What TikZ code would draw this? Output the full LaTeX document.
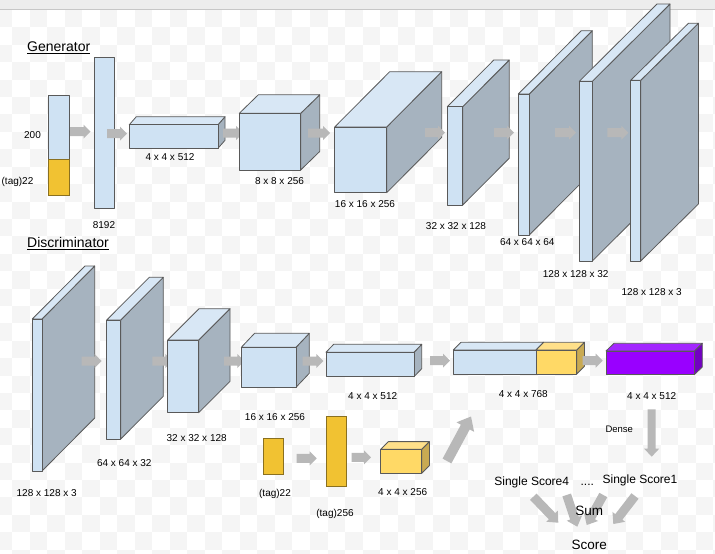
\documentclass[tikz,border=0pt]{standalone}
\usepackage{fontspec}
\setmainfont{Liberation Sans}
\usetikzlibrary{calc}
\definecolor{bluefront}{HTML}{CFE2F3}
\definecolor{bluetop}{HTML}{D8E7F5}
\definecolor{blueside}{HTML}{A6B3BF}
\definecolor{tagyellow}{HTML}{F1C232}
\definecolor{tagborder}{HTML}{8A7020}
\definecolor{ylwfront}{HTML}{FFD966}
\definecolor{ylwtop}{HTML}{FFE08A}
\definecolor{ylwside}{HTML}{C9AA52}
\definecolor{purfront}{HTML}{9900FF}
\definecolor{purtop}{HTML}{A326FF}
\definecolor{purside}{HTML}{7200C2}
\definecolor{arrowgray}{HTML}{B8B8B8}
\definecolor{checkgray}{HTML}{F5F5F5}
\definecolor{edgegray}{HTML}{595959}
\tikzset{
  cubeline/.style={draw=edgegray, line width=0.8pt, line join=round},
  tagbar/.style={draw=tagborder, line width=0.8pt, fill=tagyellow},
  lbl/.style={font=\fontsize{10}{12}\selectfont, inner sep=0pt, anchor=base},
  title/.style={font=\fontsize{14}{16}\selectfont, inner sep=0pt, anchor=base west},
  score/.style={font=\fontsize{12}{14}\selectfont, inner sep=0pt, anchor=base},
  bigtxt/.style={font=\fontsize{13.5}{16}\selectfont, inner sep=0pt, anchor=base},
  arrowfill/.style={fill=arrowgray}
}
% x y w h dx dy front top side
\newcommand\cuboid[9]{%
  \filldraw[cubeline, fill=#9] (#1+#3,#2) -- ++(#5,-#6) -- ++(0,#4) -- (#1+#3,#2+#4) -- cycle;
  \filldraw[cubeline, fill=#8] (#1,#2) -- ++(#5,-#6) -- ++(#3,0) -- (#1+#3,#2) -- cycle;
  \filldraw[cubeline, fill=#7] (#1,#2) rectangle ++(#3,#4);
}
% start, end, half shaft, half head, head length (numbers, in pt)
\newcommand\blockarrow[5]{%
  \coordinate (bacc) at ($(#2)!#5pt!(#1)$);
  \fill[arrowfill] ($(#1)!#3pt!90:(#2)$) -- ($(bacc)!#3pt!90:(#2)$) -- ($(bacc)!#4pt!90:(#2)$)
     -- (#2) -- ($(bacc)!#4pt!-90:(#2)$) -- ($(bacc)!#3pt!-90:(#2)$) -- ($(#1)!#3pt!-90:(#2)$) -- cycle;
}
\begin{document}
\begin{tikzpicture}[x=1pt,y=-1pt]
\useasboundingbox (0,0) rectangle (715,554);
\fill[white] (0,0) rectangle (715,554);
% checkerboard background
\foreach \i in {0,...,20}{
  \foreach \j in {0,...,15}{
    \fill[checkgray] ({-5.53+17.53*2*\i},{10+17.41*2*\j}) rectangle ++(17.53,17.41);
    \fill[checkgray] ({-5.53+17.53*(2*\i+1)},{10+17.41*(2*\j+1)}) rectangle ++(17.53,17.41);
  }
}
% top bar
\fill[black!7] (0,0) rectangle (715,9.5);
\draw[black!22, line width=0.8pt] (0,9.5) -- (715,9.5);

% ================= Generator =================
\node[title] (gen) at (27,51) {Generator};
\draw[line width=0.7pt] (gen.base west) ++(0,2) -- ($(gen.base east)+(0,2)$);

\filldraw[cubeline, fill=bluefront] (48.5,95) rectangle (69,159.3);
\filldraw[tagbar] (48.5,159.3) rectangle (69,195.7);
\node[lbl] (l200) at (32.5,138.6) {200};
\node[lbl] (ltag1) at (17.5,184.3) {(tag)22};

\coordinate (a1s) at (70,131.5); \coordinate (a1e) at (90.5,131.5);
\blockarrow{a1s}{a1e}{4.5}{7}{7}

\filldraw[cubeline, fill=bluefront] (94,57.3) rectangle (114.5,208.3);
\node[lbl] (l8192) at (104,228.6) {8192};

\coordinate (a2s) at (107,133.5); \coordinate (a2e) at (127,133.5);
\blockarrow{a2s}{a2e}{4.5}{7}{7}

\cuboid{129.3}{124.7}{88.7}{23.6}{7}{8}{bluefront}{bluetop}{blueside}
\node[lbl] (lg3) at (170,160.9) {4 x 4 x 512};

\coordinate (a3s) at (223,133); \coordinate (a3e) at (243,133);
\blockarrow{a3s}{a3e}{4.5}{7}{7}

\cuboid{239.3}{113.3}{61.4}{56.7}{19}{18.5}{bluefront}{bluetop}{blueside}
\node[lbl] (lg4) at (279.5,184.3) {8 x 8 x 256};

\coordinate (a4s) at (308,133); \coordinate (a4e) at (330,133);
\blockarrow{a4s}{a4e}{4.5}{7}{7}

\cuboid{334.7}{127}{52}{65.7}{55}{55.3}{bluefront}{bluetop}{blueside}
\node[lbl] (lg5) at (365,207.6) {16 x 16 x 256};

\coordinate (a5s) at (425,132.7); \coordinate (a5e) at (445,132.7);
\blockarrow{a5s}{a5e}{4.5}{7}{7}

\cuboid{447.3}{106.7}{15.4}{98.3}{46.5}{46.7}{bluefront}{bluetop}{blueside}
\node[lbl] (lg6) at (456,229.3) {32 x 32 x 128};

\coordinate (a6s) at (494,132.7); \coordinate (a6e) at (514,132.7);
\blockarrow{a6s}{a6e}{4.5}{7}{7}

\cuboid{518.3}{94}{11}{141}{63}{63.3}{bluefront}{bluetop}{blueside}
\node[lbl] (lg7) at (527.3,245.9) {64 x 64 x 64};

\coordinate (a7s) at (555,132.7); \coordinate (a7e) at (576,132.7);
\blockarrow{a7s}{a7e}{4.5}{7}{7}

\cuboid{579.3}{81.3}{13}{179.7}{77.7}{77.3}{bluefront}{bluetop}{blueside}
\node[lbl] (lg8) at (575.7,277.9) {128 x 128 x 32};

\coordinate (a8s) at (607.3,132.7); \coordinate (a8e) at (628.3,132.7);
\blockarrow{a8s}{a8e}{4.5}{7}{7}

\cuboid{630.7}{80.3}{10}{180.7}{57.7}{57}{bluefront}{bluetop}{blueside}
\node[lbl] (lg9) at (651.7,295.3) {128 x 128 x 3};

% ================= Discriminator =================
\node[title] (disc) at (27,247.5) {Discriminator};
\draw[line width=0.7pt] (disc.base west) ++(0,2) -- ($(disc.base east)+(0,2)$);

\cuboid{32.3}{319}{9.7}{152}{52.7}{53}{bluefront}{bluetop}{blueside}
\node[lbl] (ld1) at (46.7,496.3) {128 x 128 x 3};

\coordinate (b1s) at (81.7,361); \coordinate (b1e) at (101.7,361);
\blockarrow{b1s}{b1e}{4.5}{7}{7}

\cuboid{106.7}{320}{14}{119}{42.6}{42.7}{bluefront}{bluetop}{blueside}
\node[lbl] (ld2) at (124.3,466.9) {64 x 64 x 32};

\coordinate (b2s) at (152.3,361); \coordinate (b2e) at (172.3,361);
\blockarrow{b2s}{b2e}{4.5}{7}{7}

\cuboid{167.7}{340}{31}{72.7}{31.3}{31.3}{bluefront}{bluetop}{blueside}
\node[lbl] (ld3) at (196.7,441.3) {32 x 32 x 128};

\coordinate (b3s) at (224,361); \coordinate (b3e) at (244.3,361);
\blockarrow{b3s}{b3e}{4.5}{7}{7}

\cuboid{241.3}{347.3}{54.7}{40}{13.3}{14}{bluefront}{bluetop}{blueside}
\node[lbl] (ld4) at (275,420.3) {16 x 16 x 256};

\coordinate (b4s) at (302.7,361); \coordinate (b4e) at (323.3,361);
\blockarrow{b4s}{b4e}{4.5}{7}{7}

\cuboid{326}{352.3}{88}{24.4}{7.7}{8}{bluefront}{bluetop}{blueside}
\node[lbl] (ld5) at (372.7,399.3) {4 x 4 x 512};

\coordinate (b5s) at (430,360.7); \coordinate (b5e) at (450,360.7);
\blockarrow{b5s}{b5e}{4.5}{7}{7}

% 4 x 4 x 768 (blue + yellow)
\filldraw[cubeline, fill=ylwside] (576.7,350) -- ++(7.7,-7.7) -- ++(0,24) -- (576.7,374) -- cycle;
\filldraw[cubeline, fill=bluetop] (453.3,350) -- ++(7.7,-7.7) -- (543.7,342.3) -- (536,350) -- cycle;
\filldraw[cubeline, fill=ylwtop] (536,350) -- (543.7,342.3) -- (584.4,342.3) -- (576.7,350) -- cycle;
\filldraw[cubeline, fill=bluefront] (453.3,350) rectangle (536,374);
\filldraw[cubeline, fill=ylwfront] (536,350) rectangle (576.7,374);
\node[lbl] (ld6) at (523.3,397.9) {4 x 4 x 768};

\coordinate (b6s) at (582.7,360.7); \coordinate (b6e) at (602.7,360.7);
\blockarrow{b6s}{b6e}{4.5}{7}{7}

\cuboid{606}{351}{88.3}{23.7}{8}{7.7}{purfront}{purtop}{purside}
\node[lbl] (ld7) at (651.7,399.3) {4 x 4 x 512};

\coordinate (dns) at (651.7,409.3); \coordinate (dne) at (651.7,456.7);
\blockarrow{dns}{dne}{4}{7.5}{8}
\node[lbl, font=\fontsize{9.5}{11}\selectfont] (ldense) at (619.3,432.7) {Dense};

% tag branch
\filldraw[tagbar] (263.3,438.3) rectangle (283.3,474.3);
\node[lbl] (ltag2) at (275,496.3) {(tag)22};

\coordinate (b7s) at (296.7,458.3); \coordinate (b7e) at (316.7,458.3);
\blockarrow{b7s}{b7e}{4.5}{7}{7}

\filldraw[tagbar] (326,416) rectangle (346,486.7);
\node[lbl] (ltag3) at (335,516.9) {(tag)256};

\coordinate (b8s) at (351.7,457.3); \coordinate (b8e) at (371,457.3);
\blockarrow{b8s}{b8e}{4.5}{7}{7}

\cuboid{380.7}{449.3}{41}{24}{7.7}{7.7}{ylwfront}{ylwtop}{ylwside}
\node[lbl] (ld8) at (402.7,495.9) {4 x 4 x 256};

\coordinate (dgs) at (447,461); \coordinate (dge) at (471,416.5);
\blockarrow{dgs}{dge}{5}{10}{12}

% scores
\node[score] (ss4) at (531.7,485.3) {Single Score4};
\node[score] (dots) at (587.3,485.3) {....};
\node[score] (ss1) at (640,483.3) {Single Score1};

\coordinate (s1s) at (533.3,496.7); \coordinate (s1e) at (558.3,522.7);
\blockarrow{s1s}{s1e}{4.5}{8}{9}
\coordinate (s2s) at (566.7,495); \coordinate (s2e) at (577.3,526.7);
\blockarrow{s2s}{s2e}{4.5}{8}{9}
\coordinate (s3s) at (603.3,495); \coordinate (s3e) at (586.7,525);
\blockarrow{s3s}{s3e}{4.5}{8}{9}
\coordinate (s4s) at (635,496); \coordinate (s4e) at (613.3,524);
\blockarrow{s4s}{s4e}{4.5}{8}{9}

\node[bigtxt] (sum) at (589.3,515.9) {Sum};
\node[bigtxt] (score) at (589.3,549.9) {Score};
\end{tikzpicture}
\end{document}
